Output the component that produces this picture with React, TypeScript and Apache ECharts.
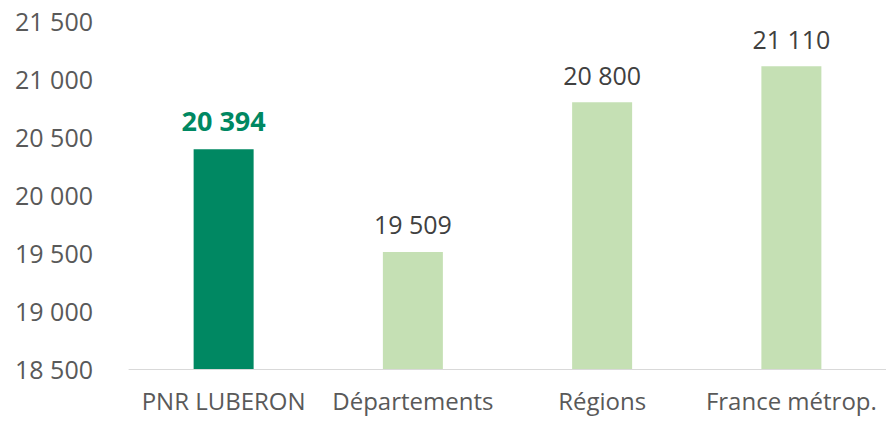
import React, { useEffect, useRef } from "react";
import * as echarts from "echarts";

const categories = ["PNR LUBERON", "Départements", "Régions", "France métrop."];
const values = [20394, 19509, 20800, 21110];
const highlightIndex = 0;
const yMin = 18500;
const yMax = 21500;
const yStep = 500;

const fmt = (v: number) => String(Math.round(v)).replace(/\B(?=(\d{3})+(?!\d))/g, " ");

export default function App() {
  const ref = useRef<HTMLDivElement>(null);
  useEffect(() => {
    if (!ref.current) return;
    const chart = echarts.init(ref.current, null, { renderer: "svg" });
    chart.setOption({
      animation: false,
      textStyle: { fontFamily: "Open Sans" },
      grid: { left: 129, right: 0, top: 21, bottom: 52, containLabel: false },
      xAxis: {
        type: "category",
        data: categories,
        axisLine: { lineStyle: { color: "#D9D9D9", width: 1 } },
        axisTick: { show: false },
        axisLabel: { color: "#595959", fontSize: 24, margin: 19, interval: 0, fontFamily: "Open Sans" },
      },
      yAxis: {
        type: "value",
        min: yMin,
        max: yMax,
        interval: yStep,
        axisLine: { show: false },
        axisTick: { show: false },
        splitLine: { show: false },
        axisLabel: { color: "#595959", fontSize: 25, margin: 36, formatter: fmt, fontFamily: "Open Sans" },
      },
      series: [
        {
          type: "bar",
          barWidth: 60,
          data: values.map((v, i) => ({
            value: v,
            itemStyle: { color: i === highlightIndex ? "#008862" : "#C5E0B4" },
            label: {
              show: true,
              position: "top",
              distance: 15,
              formatter: () => fmt(v),
              fontSize: i === highlightIndex ? 27 : 25,
              fontFamily: "Open Sans",
              color: i === highlightIndex ? "#008862" : "#404040",
              fontWeight: i === highlightIndex ? "bold" : "normal",
            },
          })),
        },
      ],
    });
    return () => chart.dispose();
  }, []);
  return (
    <div
      ref={ref}
      style={{ position: "absolute", left: 0, top: 0, width: 886, height: 421, background: "#fff" }}
    />
  );
}
